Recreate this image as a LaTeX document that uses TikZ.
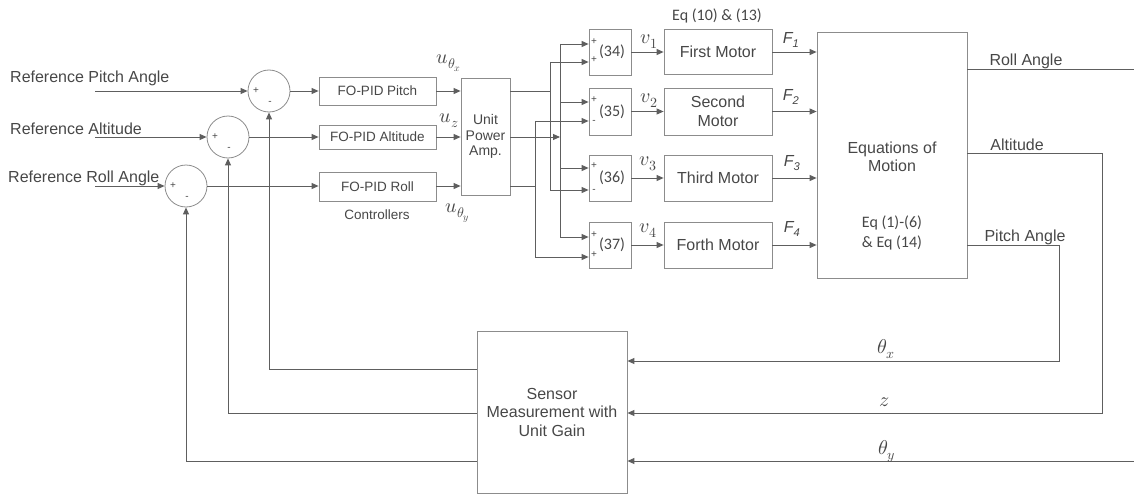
\documentclass[tikz,border=0pt]{standalone}
\usepackage{fontspec}
\usepackage{unicode-math}
\setmainfont{Liberation Sans}
\setmathfont{Latin Modern Math}
\newfontfamily\calfont{Carlito}
\usetikzlibrary{arrows.meta,calc}
\definecolor{ln}{HTML}{5E5E5E}
\definecolor{bx}{HTML}{8C8C8C}
\definecolor{tx}{HTML}{474747}
\begin{document}
\begin{tikzpicture}[x=1pt,y=-1pt,
  wire/.style={draw=ln, line width=0.9pt},
  arr/.style={wire, -{Triangle[length=7pt,width=6pt]}},
  box/.style={draw=bx, line width=0.8pt, inner sep=0pt, text=tx, align=center},
  lbl/.style={text=tx, font=\fontsize{16}{18.5}\selectfont},
  pidf/.style={text=tx, font=\fontsize{13.5}{15}\selectfont},
  eqf/.style={text=tx, font=\calfont\fontsize{16}{20}\selectfont},
  sumc/.style={circle, draw=bx, line width=0.8pt, minimum size=42pt, inner sep=0pt},
  sgn/.style={text=tx, font=\fontsize{10}{10}\selectfont, inner sep=0pt},
  ml/.style={text=tx, font=\fontsize{20}{20}\selectfont, inner sep=0pt}]
\useasboundingbox (0,0) rectangle (1134,495);

% reference inputs
\node[lbl, anchor=west, inner sep=0pt] (tP) at (10,78) {Reference Pitch Angle};
\node[lbl, anchor=west, inner sep=0pt] (tA) at (10,129) {Reference Altitude};
\node[lbl, anchor=west, inner sep=0pt] (tR) at (8,178) {Reference Roll Angle};
\coordinate (iP) at (95,91);
\coordinate (iA) at (95,137);
\coordinate (iR) at (95,186);

% summing junctions
\node[sumc] (sP) at (269,91) {};
\node[sumc] (sA) at (228,137) {};
\node[sumc] (sR) at (186,186) {};
\foreach \s in {sP,sA,sR}{
  \node[sgn] at ($(\s)+(-13,0)$) {+};
  \node[sgn] at ($(\s)+(1,12)$) {-};
}

% controllers
\node[box, pidf, minimum width=117pt, minimum height=28pt] (pP) at (377.5,91) {FO-PID Pitch};
\node[box, pidf, minimum width=117pt, minimum height=24pt] (pA) at (377.5,137) {FO-PID Altitude};
\node[box, pidf, minimum width=117pt, minimum height=29pt] (pR) at (377.5,187) {FO-PID Roll};
\node[pidf] (ctl) at (377,215) {Controllers};

% amplifier
\node[box, text=tx, font=\fontsize{14}{15.5}\selectfont, minimum width=49pt, minimum height=117pt] (amp) at (485.5,136.5) {Unit\\Power\\Amp.};

% mixing blocks
\node[box, eqf, minimum width=42pt, minimum height=46pt] (b34) at (610,52) {\hspace*{4pt}(34)};
\node[box, eqf, minimum width=42pt, minimum height=47pt] (b35) at (610,111.5) {\hspace*{4pt}(35)};
\node[box, eqf, minimum width=42pt, minimum height=46pt] (b36) at (610,178) {\hspace*{4pt}(36)};
\node[box, eqf, minimum width=42pt, minimum height=46pt] (b37) at (610,245) {\hspace*{4pt}(37)};

% motors
\node[box, lbl, minimum width=108pt, minimum height=45pt] (m1) at (718,52) {First Motor};
\node[box, lbl, minimum width=108pt, minimum height=47pt] (m2) at (718,111.5) {Second\\Motor};
\node[box, lbl, minimum width=108pt, minimum height=46pt] (m3) at (718,178) {Third Motor};
\node[box, lbl, minimum width=108pt, minimum height=46pt] (m4) at (718,245) {Forth Motor};
\node[eqf] (eq1013) at (717,16) {Eq (10) \& (13)};

% equations of motion
\node[box, minimum width=150pt, minimum height=246pt] (eom) at (892,155) {};
\node[lbl, align=center] (eomt) at (892,157) {Equations of\\Motion};
\node[eqf, align=center] (eomq) at (892,233) {Eq (1)-(6)\\\& Eq (14)};

% sensor
\node[box, lbl, minimum width=150pt, minimum height=162pt] (sen) at (552,412) {Sensor\\Measurement with\\Unit Gain};

% forward path
\draw[arr] (iP) -- (sP);
\draw[arr] (iA) -- (sA);
\draw[arr] (iR) -- (sR);
\draw[arr] (sP) -- (pP.west |- sP);
\draw[arr] (sA) -- (pA);
\draw[arr] (sR) -- (pR.west |- sR);
\draw[arr] (pP.east |- sP) -- (amp.west |- sP);
\draw[arr] (pA) -- (amp.west |- pA);
\draw[arr] (pR.east |- sR) -- (amp.west |- sR);
\node[ml] (ux) at (449,63) {$u_{\theta_x}$};
\node[ml] (uz) at (449,121) {$u_z$};
\node[ml] (uy) at (458,213) {$u_{\theta_y}$};

% distribution
\coordinate (jx) at (550,91);
\coordinate (jx1) at (550,62);
\coordinate (jx2) at (550,190);
\coordinate (jz) at (560,137);
\coordinate (jz1) at (560,44);
\coordinate (jz2) at (560,102);
\coordinate (jz3) at (560,168);
\coordinate (jz4) at (560,237);
\coordinate (jy) at (535,186);
\coordinate (jy1) at (535,121);
\coordinate (jy2) at (535,257);
\draw[wire] (amp.east |- jx) -- (jx);
\draw[wire] (jx1) -- (jx2);
\draw[arr] (jx1) -- (jx1 -| b34.west);
\draw[arr] (jx2) -- (jx2 -| b36.west);
\draw[arr] (amp.east |- jz) -- (jz);
\draw[wire] (jz1) -- (jz4);
\draw[arr] (jz1) -- (jz1 -| b34.west);
\draw[arr] (jz2) -- (jz2 -| b35.west);
\draw[arr] (jz3) -- (jz3 -| b36.west);
\draw[arr] (jz4) -- (jz4 -| b37.west);
\draw[wire] (amp.east |- jy) -- (jy);
\draw[wire] (jy1) -- (jy2);
\draw[arr] (jy1) -- (jy1 -| b35.west);
\draw[arr] (jy2) -- (jy2 -| b37.west);
\node[sgn] at (594,42) {+};
\node[sgn] at (594,60) {+};
\node[sgn] at (594,100) {+};
\node[sgn] at (594,122) {-};
\node[sgn] at (594,166) {+};
\node[sgn] at (594,191) {-};
\node[sgn] at (594,235) {+};
\node[sgn] at (594,255) {+};

% motors path
\draw[arr] (b34) -- (m1);
\draw[arr] (b35) -- (m2);
\draw[arr] (b36) -- (m3);
\draw[arr] (b37) -- (m4);
\draw[arr] (m1) -- (m1 -| eom.west);
\draw[arr] (m2) -- (m2 -| eom.west);
\draw[arr] (m3) -- (m3 -| eom.west);
\draw[arr] (m4) -- (m4 -| eom.west);
\node[ml] (v1) at (649,42) {$v_1$};
\node[ml] (v2) at (649,101) {$v_2$};
\node[ml] (v3) at (648,164) {$v_3$};
\node[ml] (v4) at (648,231) {$v_4$};
\node[lbl] (F1) at (791,40) {\itshape F\textsubscript{1}};
\node[lbl] (F2) at (791,97) {\itshape F\textsubscript{2}};
\node[lbl] (F3) at (792,163) {\itshape F\textsubscript{3}};
\node[lbl] (F4) at (792,229) {\itshape F\textsubscript{4}};

% outputs
\coordinate (rollE) at (1134,69);
\coordinate (altC) at (1102,153);
\coordinate (altD) at (1102,413);
\coordinate (pitC) at (1059,245);
\coordinate (pitD) at (1059,361);
\coordinate (tyS) at (1134,461);
\draw[wire] (eom.east |- rollE) -- (rollE);
\draw[arr] (eom.east |- altC) -- (altC) -- (altD) -- (altD -| sen.east);
\draw[arr] (eom.east |- pitC) -- (pitC) -- (pitD) -- (pitD -| sen.east);
\draw[arr] (tyS) -- (tyS -| sen.east);
\node[lbl] (roll) at (1026,61) {Roll Angle};
\node[lbl] (alt) at (1017,145) {Altitude};
\node[lbl] (pit) at (1025,237) {Pitch Angle};
\node[ml] (thx) at (886,349) {$\theta_x$};
\node[ml] (zz) at (884,402) {$z$};
\node[ml] (thy) at (887,451) {$\theta_y$};

% feedback
\coordinate (fbP) at (269,369);
\coordinate (fbA) at (228,413);
\coordinate (fbR) at (186,461);
\draw[arr] (sen.west |- fbP) -- (fbP) -- (sP.south);
\draw[arr] (sen.west |- fbA) -- (fbA) -- (sA.south);
\draw[arr] (sen.west |- fbR) -- (fbR) -- (sR.south);
\end{tikzpicture}
\end{document}
